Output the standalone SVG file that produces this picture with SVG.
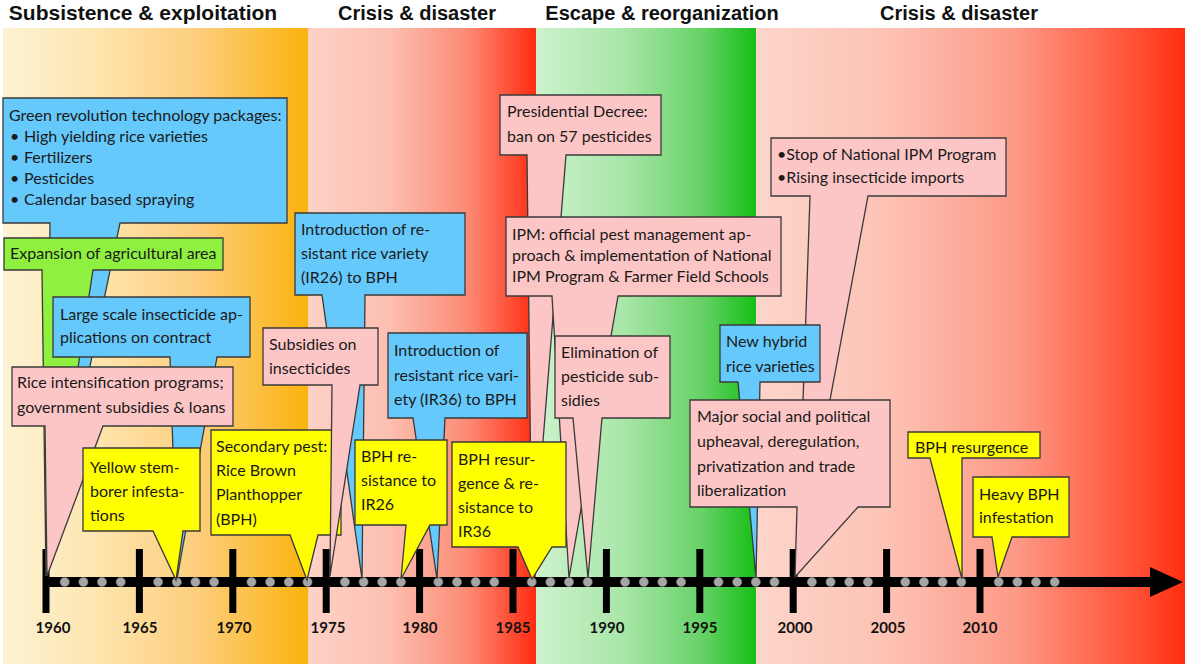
<svg xmlns="http://www.w3.org/2000/svg" xmlns:xlink="http://www.w3.org/1999/xlink" width="1185" height="664" viewBox="0 0 1185 664">
<defs>
<style>
.h{font-family:"Liberation Sans",Arial,sans-serif;font-weight:bold;font-size:20px;text-anchor:middle;fill:#111}
.t{font-family:Lato,"Liberation Sans",sans-serif;font-size:16px;fill:#1a1a1a}
.yr{font-family:Lato,"Liberation Sans",sans-serif;font-weight:bold;font-size:15px;text-anchor:middle;fill:#111}
.co{stroke:#3a3a3a;stroke-width:1.3;stroke-linejoin:miter}
.blue{fill:#66c9fb}.pink{fill:#fdc6c6}.yel{fill:#ffff00}.grn{fill:#8ff03f}
</style>
<linearGradient id="g1" x1="0" y1="0" x2="1" y2="0"><stop offset="0" stop-color="#fdf2d2"/><stop offset="0.3" stop-color="#fde6b0"/><stop offset="0.65" stop-color="#fccd7a"/><stop offset="1" stop-color="#fbb30e"/></linearGradient>
<linearGradient id="g2" x1="0" y1="0" x2="1" y2="0"><stop offset="0" stop-color="#fdd2c6"/><stop offset="0.35" stop-color="#fcc0b2"/><stop offset="0.7" stop-color="#fc8a74"/><stop offset="1" stop-color="#fe2c12"/></linearGradient>
<linearGradient id="g3" x1="0" y1="0" x2="1" y2="0"><stop offset="0" stop-color="#cdf2cd"/><stop offset="0.4" stop-color="#a8e6a8"/><stop offset="0.75" stop-color="#68d268"/><stop offset="1" stop-color="#16bf16"/></linearGradient>
<linearGradient id="g4" x1="0" y1="0" x2="1" y2="0"><stop offset="0" stop-color="#fdd5ca"/><stop offset="0.3" stop-color="#fcc3b5"/><stop offset="0.6" stop-color="#fd9a88"/><stop offset="0.85" stop-color="#ff5a40"/><stop offset="1" stop-color="#ff2e10"/></linearGradient>
<circle id="dot" r="4.6" fill="#a6a6a6" stroke="#7a7a7a" stroke-width="0.6"/>
<rect id="tick" x="-3.5" y="549" width="7" height="64" fill="#000"/>
</defs>

<g id="background">
<rect x="0" y="0" width="1185" height="664" fill="#ffffff"/>
<rect x="3" y="28" width="305" height="636" fill="url(#g1)"/>
<rect x="308" y="28" width="228" height="636" fill="url(#g2)"/>
<rect x="536" y="28" width="220" height="636" fill="url(#g3)"/>
<rect x="756" y="28" width="429" height="636" fill="url(#g4)"/>
</g>

<g id="headers">
<text class="h" x="143" y="20" style="font-size:21px">Subsistence &amp; exploitation</text>
<text class="h" x="417" y="20">Crisis &amp; disaster</text>
<text class="h" x="662" y="20">Escape &amp; reorganization</text>
<text class="h" x="959" y="20">Crisis &amp; disaster</text>
</g>

<g id="timeline">
<rect x="44" y="577" width="1108" height="10" fill="#000"/>
<polygon points="1150,567 1183,582 1150,597" fill="#000"/>
<use xlink:href="#tick" x="46"/><use xlink:href="#tick" x="139.4"/><use xlink:href="#tick" x="232.8"/><use xlink:href="#tick" x="326.2"/><use xlink:href="#tick" x="419.6"/><use xlink:href="#tick" x="513"/><use xlink:href="#tick" x="606.4"/><use xlink:href="#tick" x="699.8"/><use xlink:href="#tick" x="793.2"/><use xlink:href="#tick" x="886.6"/><use xlink:href="#tick" x="980"/>
<g transform="translate(0,582)">
<use xlink:href="#dot" x="64.7"/><use xlink:href="#dot" x="83.4"/><use xlink:href="#dot" x="102"/><use xlink:href="#dot" x="120.7"/>
<use xlink:href="#dot" x="158.1"/><use xlink:href="#dot" x="176.8"/><use xlink:href="#dot" x="195.4"/><use xlink:href="#dot" x="214.1"/>
<use xlink:href="#dot" x="251.5"/><use xlink:href="#dot" x="270.2"/><use xlink:href="#dot" x="288.8"/><use xlink:href="#dot" x="307.5"/>
<use xlink:href="#dot" x="344.9"/><use xlink:href="#dot" x="363.6"/><use xlink:href="#dot" x="382.2"/><use xlink:href="#dot" x="400.9"/>
<use xlink:href="#dot" x="438.3"/><use xlink:href="#dot" x="457"/><use xlink:href="#dot" x="475.6"/><use xlink:href="#dot" x="494.3"/>
<use xlink:href="#dot" x="531.7"/><use xlink:href="#dot" x="550.4"/><use xlink:href="#dot" x="569"/><use xlink:href="#dot" x="587.7"/>
<use xlink:href="#dot" x="625.1"/><use xlink:href="#dot" x="643.8"/><use xlink:href="#dot" x="662.4"/><use xlink:href="#dot" x="681.1"/>
<use xlink:href="#dot" x="718.5"/><use xlink:href="#dot" x="737.2"/><use xlink:href="#dot" x="755.8"/><use xlink:href="#dot" x="774.5"/>
<use xlink:href="#dot" x="811.9"/><use xlink:href="#dot" x="830.6"/><use xlink:href="#dot" x="849.2"/><use xlink:href="#dot" x="867.9"/>
<use xlink:href="#dot" x="905.3"/><use xlink:href="#dot" x="924"/><use xlink:href="#dot" x="942.6"/><use xlink:href="#dot" x="961.3"/>
<use xlink:href="#dot" x="998.7"/><use xlink:href="#dot" x="1017.4"/><use xlink:href="#dot" x="1036"/><use xlink:href="#dot" x="1054.7"/>
</g>
<text class="yr" x="53" y="633">1960</text><text class="yr" x="140" y="633">1965</text><text class="yr" x="234" y="633">1970</text><text class="yr" x="328" y="633">1975</text><text class="yr" x="420" y="633">1980</text><text class="yr" x="513" y="633">1985</text><text class="yr" x="607" y="633">1990</text><text class="yr" x="700" y="633">1995</text><text class="yr" x="795" y="633">2000</text><text class="yr" x="888" y="633">2005</text><text class="yr" x="980" y="633">2010</text>
</g>

<g id="n-green-revolution">
<path class="co blue" d="M3,98 H287 V223 H120 L46,576 L50,223 H3 Z"/>
<text class="t" x="9" y="121">Green revolution technology packages:</text>
<text class="t" x="10" y="142">•</text><text class="t" x="24" y="142">High yielding rice varieties</text>
<text class="t" x="10" y="163">•</text><text class="t" x="24" y="163">Fertilizers</text>
<text class="t" x="10" y="184">•</text><text class="t" x="24" y="184">Pesticides</text>
<text class="t" x="10" y="205">•</text><text class="t" x="24" y="205">Calendar based spraying</text>
</g>

<g id="n-expansion">
<path class="co grn" d="M4,238 H223 V270 H93 L46,576 L42,270 H4 Z"/>
<text class="t" x="10" y="259">Expansion of agricultural area</text>
</g>

<g id="n-large-scale">
<path class="co blue" d="M53,297 H250 V357 H217 L177,579 L170,357 H53 Z"/>
<text class="t" x="60" y="320">Large scale insecticide ap-</text>
<text class="t" x="60" y="343">plications on contract</text>
</g>

<g id="n-rice-intensification">
<path class="co pink" d="M12,367 H233 V426 H103 L47,576 L45,426 H12 Z"/>
<text class="t" x="17" y="388">Rice intensification programs;</text>
<text class="t" x="17" y="413">government subsidies &amp; loans</text>
</g>

<g id="n-yellow-stem">
<path class="co yel" d="M83,448 H200 V531 H183 L176,580 L153,531 H83 Z"/>
<text class="t" x="90" y="473">Yellow stem-</text>
<text class="t" x="90" y="497">borer infesta-</text>
<text class="t" x="90" y="521">tions</text>
</g>

<g id="n-secondary-pest">
<path class="co yel" d="M211,430 H341 V535 H318 L307,580 L290,535 H211 Z"/>
<text class="t" x="216" y="452">Secondary pest:</text>
<text class="t" x="216" y="476">Rice Brown</text>
<text class="t" x="216" y="500">Planthopper</text>
<text class="t" x="216" y="525">(BPH)</text>
</g>

<g id="n-ir26-intro">
<path class="co blue" d="M295,213 H465 V295 H365 L362,579 L322,295 H295 Z"/>
<text class="t" x="301" y="235">Introduction of re-</text>
<text class="t" x="301" y="259">sistant rice variety</text>
<text class="t" x="301" y="283">(IR26) to BPH</text>
</g>

<g id="n-subsidies">
<path class="co pink" d="M263,328 H378 V385 H360 L330,576 L332,385 H263 Z"/>
<text class="t" x="269" y="350">Subsidies on</text>
<text class="t" x="269" y="374">insecticides</text>
</g>

<g id="n-ir36-intro">
<path class="co blue" d="M388,333 H527 V418 H445 L437,579 L413,418 H388 Z"/>
<text class="t" x="394" y="356">Introduction of</text>
<text class="t" x="394" y="381">resistant rice vari-</text>
<text class="t" x="394" y="405">ety (IR36) to BPH</text>
</g>

<g id="n-bph-resistance-ir26">
<path class="co yel" d="M355,440 H447 V525 H430 L401,579 L406,525 H355 Z"/>
<text class="t" x="361" y="462">BPH re-</text>
<text class="t" x="361" y="486">sistance to</text>
<text class="t" x="361" y="510">IR26</text>
</g>

<g id="n-decree">
<path class="co pink" d="M500,95 H661 V155 H566 L532,578 L527,155 H500 Z"/>
<text class="t" x="507" y="117">Presidential Decree:</text>
<text class="t" x="507" y="142">ban on 57 pesticides</text>
</g>

<g id="n-ipm">
<path class="co pink" d="M506,217 H781 V296 H618 L569,578 L552,296 H506 Z"/>
<text class="t" x="512" y="240">IPM: official pest management ap-</text>
<text class="t" x="512" y="261">proach &amp; implementation of National</text>
<text class="t" x="512" y="282">IPM Program &amp; Farmer Field Schools</text>
</g>

<g id="n-elimination">
<path class="co pink" d="M555,336 H670 V418 H602 L588,578 L573,418 H555 Z"/>
<text class="t" x="561" y="358">Elimination of</text>
<text class="t" x="561" y="382">pesticide sub-</text>
<text class="t" x="561" y="406">sidies</text>
</g>

<g id="n-bph-resurgence-ir36">
<path class="co yel" d="M452,442 H566 V547 H552 L532,579 L518,547 H452 Z"/>
<text class="t" x="458" y="465">BPH resur-</text>
<text class="t" x="458" y="489">gence &amp; re-</text>
<text class="t" x="458" y="513">sistance to</text>
<text class="t" x="458" y="537">IR36</text>
</g>

<g id="n-stop-ipm">
<path class="co pink" d="M771,138 H1006 V196 H868 L797,577 L810,196 H771 Z"/>
<text class="t" x="777" y="160">•Stop of National IPM Program</text>
<text class="t" x="777" y="183">•Rising insecticide imports</text>
</g>

<g id="n-new-hybrid">
<path class="co blue" d="M720,325 H820 V382 H760 L756,578 L738,382 H720 Z"/>
<text class="t" x="726" y="347">New hybrid</text>
<text class="t" x="726" y="372">rice varieties</text>
</g>

<g id="n-major-social">
<path class="co pink" d="M690,400 H890 V507 H858 L795,577 L797,507 H690 Z"/>
<text class="t" x="697" y="422">Major social and political</text>
<text class="t" x="697" y="447">upheaval, deregulation,</text>
<text class="t" x="697" y="472">privatization and trade</text>
<text class="t" x="697" y="496">liberalization</text>
</g>

<g id="n-bph-resurgence-2009">
<path class="co yel" d="M908,432 H1040 V458 H962 L962,579 L930,458 H908 Z"/>
<text class="t" x="915" y="453">BPH resurgence</text>
</g>

<g id="n-heavy-bph">
<path class="co yel" d="M973,477 H1069 V537 H1012 L998,577 L992,537 H973 Z"/>
<text class="t" x="979" y="500">Heavy BPH</text>
<text class="t" x="979" y="523">infestation</text>
</g>
</svg>
